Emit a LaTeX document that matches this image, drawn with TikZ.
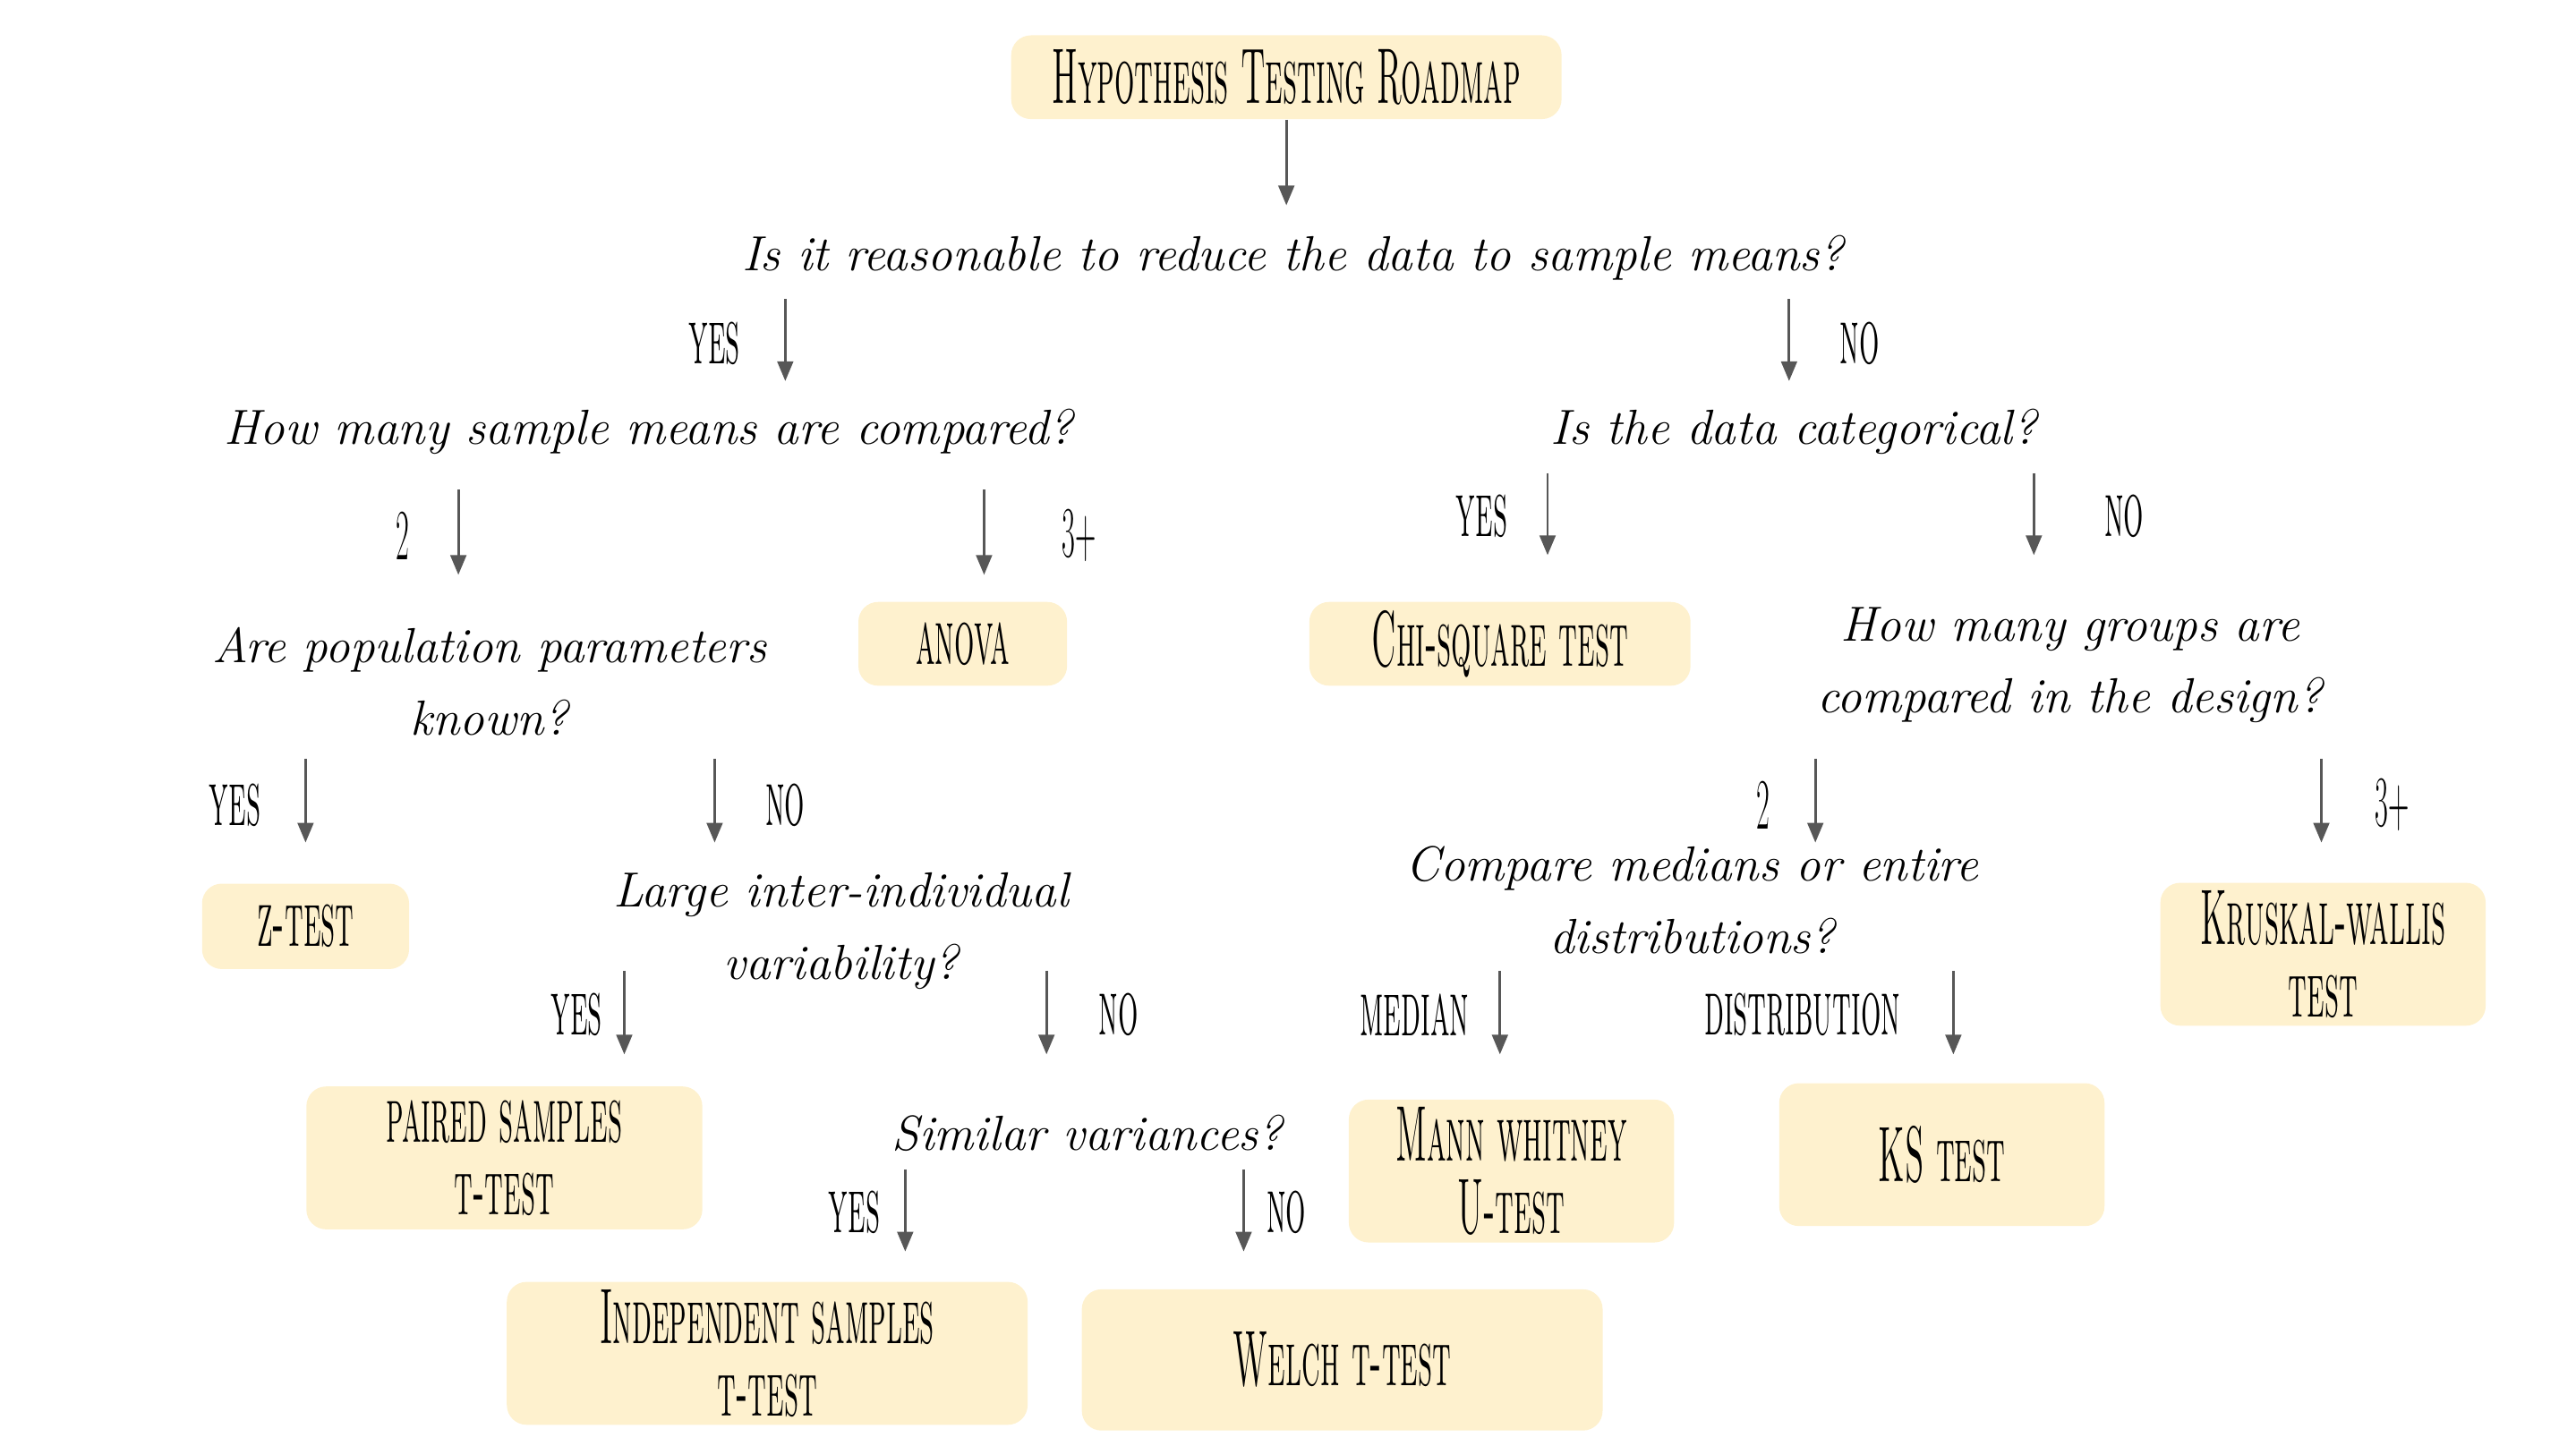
\documentclass[tikz,border=0pt]{standalone}
\usepackage{graphicx}
\usetikzlibrary{arrows.meta}
\definecolor{boxfill}{HTML}{FEF1CE}
\definecolor{arrgray}{HTML}{575757}
\newcommand\amt[1]{\scalebox{0.40}[1]{#1}}
\tikzset{
  box/.style={fill=boxfill, rounded corners=6pt, inner sep=0pt, align=center,
    font=\fontsize{24}{22}\selectfont\scshape, text=black},
  ques/.style={inner sep=0pt, align=center, font=\fontsize{15}{22}\selectfont\itshape},
  lbl/.style={inner sep=0pt, font=\fontsize{24}{22}\selectfont\scshape},
  num/.style={inner sep=0pt, font=\fontsize{22}{22}\selectfont},
  arr/.style={draw=arrgray, line width=0.8pt, -{Triangle[length=6pt,width=4.8pt]}, arrgray},
}
\begin{document}
\begin{tikzpicture}[x=0.5pt,y=-0.5pt]
\useasboundingbox (0,0) rectangle (1568,880.4);
% boxes
\node[box, minimum width=167.5pt, minimum height=25.5pt] (title) at (783,47) {\amt{Hypothesis Testing Roadmap}};
\node[box, minimum width=63.5pt, minimum height=25.5pt] (anova) at (586,392) {\amt{anova}};
\node[box, minimum width=116pt, minimum height=25.5pt] (chi) at (913,392) {\amt{Chi-square test}};
\node[box, minimum width=63pt, minimum height=26pt] (ztest) at (186,564) {\amt{z-test}};
\node[box, minimum width=99pt, minimum height=43.5pt] (kw) at (1414,581) {\amt{Kruskal-wallis}\\\amt{test}};
\node[box, minimum width=120.5pt, minimum height=43.5pt] (paired) at (307,705) {\amt{paired samples}\\\amt{t-test}};
\node[box, minimum width=99pt, minimum height=43.5pt] (mw) at (920,713) {\amt{Mann whitney}\\\amt{U-test}};
\node[box, minimum width=99pt, minimum height=43.5pt] (ks) at (1182,703) {\amt{KS test}};
\node[box, minimum width=158.5pt, minimum height=43.5pt] (indep) at (467,824) {\amt{Independent samples}\\\amt{t-test}};
\node[box, minimum width=158.5pt, minimum height=43pt] (welch) at (817,828) {\amt{Welch t-test}};
% questions
\node[ques] (q1) at (787,157) {Is it reasonable to reduce the data to sample means?};
\node[ques] (q2) at (395,263) {How many sample means are compared?};
\node[ques] (q3) at (1092,263) {Is the data categorical?};
\node[ques] (q4) at (298,415) {Are population parameters\\known?};
\node[ques] (q5) at (1260,405) {How many groups are\\compared in the design?};
\node[ques] (q6) at (512,567) {Large inter-individual\\variability?};
\node[ques] (q7) at (1030,548) {Compare medians or entire\\distributions?};
\node[ques] (q8) at (662,690) {Similar variances?};
% labels
\node[lbl] (l1) at (435,209) {\amt{yes}};
\node[lbl] (l2) at (1132,209) {\amt{no}};
\node[num] (l3) at (245,326) {\amt{2}};
\node[num] (l4) at (657,326) {\amt{3+}};
\node[lbl] (l5) at (902,314) {\amt{yes}};
\node[lbl] (l6) at (1293,314) {\amt{no}};
\node[lbl] (l7) at (143,490) {\amt{yes}};
\node[lbl] (l8) at (478,490) {\amt{no}};
\node[num] (l9) at (1073,490) {\amt{2}};
\node[num] (l10) at (1456,490) {\amt{3+}};
\node[lbl] (l11) at (351,618) {\amt{yes}};
\node[lbl] (l12) at (681,618) {\amt{no}};
\node[lbl] (l13) at (861,618) {\amt{median}};
\node[lbl] (l14) at (1097,618) {\amt{distribution}};
\node[lbl] (l15) at (520,738) {\amt{yes}};
\node[lbl] (l16) at (783,738) {\amt{no}};
% arrow end points
\coordinate (a0e) at (783,125);
\coordinate (a1s) at (478,182); \coordinate (a1e) at (478,232);
\coordinate (a2s) at (1089,182); \coordinate (a2e) at (1089,232);
\coordinate (a3s) at (279,298); \coordinate (a3e) at (279,350);
\coordinate (a4s) at (599,298); \coordinate (a4e) at (599,350);
\coordinate (a5s) at (942,288); \coordinate (a5e) at (942,338);
\coordinate (a6s) at (1238,288); \coordinate (a6e) at (1238,338);
\coordinate (a7s) at (186,462); \coordinate (a7e) at (186,513);
\coordinate (a8s) at (435,462); \coordinate (a8e) at (435,513);
\coordinate (a9s) at (1105,462); \coordinate (a9e) at (1105,513);
\coordinate (a10s) at (1413,462); \coordinate (a10e) at (1413,513);
\coordinate (a11s) at (380,591); \coordinate (a11e) at (380,642);
\coordinate (a12s) at (637,591); \coordinate (a12e) at (637,642);
\coordinate (a13s) at (913,591); \coordinate (a13e) at (913,642);
\coordinate (a14s) at (1189,591); \coordinate (a14e) at (1189,642);
\coordinate (a15s) at (551,712); \coordinate (a15e) at (551,762);
\coordinate (a16s) at (757,712); \coordinate (a16e) at (757,762);
% arrows
\draw[arr] (title.south) -- (a0e);
\foreach \i in {1,...,16} { \draw[arr] (a\i s) -- (a\i e); }
\end{tikzpicture}
\end{document}
